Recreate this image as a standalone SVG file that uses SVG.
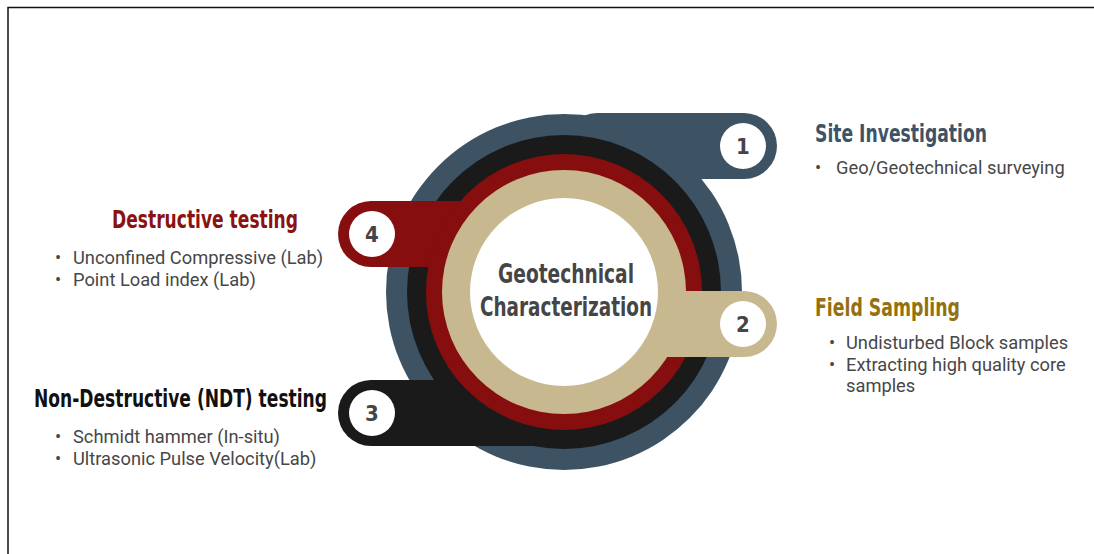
<svg xmlns="http://www.w3.org/2000/svg" width="1094" height="554" viewBox="0 0 1094 554">
<style>
.slate{fill:#3D5263}
.blk{fill:#1A1A1A}
.red{fill:#870E0E}
.tan{fill:#C8B890}
.wh{fill:#FFFFFF}
.num{font-family:"Liberation Sans Narrow","DejaVu Sans Condensed",sans-serif;font-weight:bold;font-size:22px;fill:#454545;text-anchor:middle}
.title{font-family:"Liberation Sans Narrow","DejaVu Sans Condensed",sans-serif;font-weight:bold;font-size:25px}
.center{font-family:"Liberation Sans Narrow","DejaVu Sans Condensed",sans-serif;font-weight:bold;font-size:27px;fill:#454545;text-anchor:middle}
.body{font-family:Roboto,"Liberation Sans",sans-serif;font-size:18.3px;fill:#474747}
</style>
<rect x="0" y="0" width="1094" height="554" fill="#FFFFFF"/>
<path d="M8,560 L8,7.5 L1100,7.5" fill="none" stroke="#111111" stroke-width="1.5"/>
<g id="rings">
<g id="ring1">
<circle class="slate" cx="564" cy="292" r="178"/>
<rect class="slate" x="564" y="113" width="213" height="66" rx="33"/>
</g>
<g id="ring3">
<rect class="blk" x="338" y="380" width="226" height="66" rx="33"/>
<circle class="blk" cx="564" cy="292" r="157"/>
</g>
<g id="ring4">
<rect class="red" x="338" y="201" width="226" height="66" rx="33"/>
<circle class="red" cx="564" cy="292" r="138"/>
</g>
<g id="ring2">
<rect class="tan" x="564" y="291" width="213" height="66" rx="33"/>
<circle class="tan" cx="564" cy="292" r="122"/>
</g>
</g>
<g id="center">
<circle class="wh" cx="564" cy="292" r="94"/>
<text class="center" x="566" y="283" textLength="136" lengthAdjust="spacingAndGlyphs">Geotechnical</text>
<text class="center" x="566" y="316" textLength="172" lengthAdjust="spacingAndGlyphs">Characterization</text>
</g>
<g id="node1">
<circle class="wh" cx="743" cy="146" r="23"/>
<text class="num" x="743" y="154">1</text>
<text class="title" x="815" y="142" fill="#3E5366" textLength="172" lengthAdjust="spacingAndGlyphs">Site Investigation</text>
<text class="body" x="815" y="174">•</text>
<text class="body" x="836" y="174">Geo/Geotechnical surveying</text>
</g>
<g id="node2">
<circle class="wh" cx="743" cy="324" r="23"/>
<text class="num" x="743" y="332">2</text>
<text class="title" x="815" y="316" fill="#94700E" textLength="145" lengthAdjust="spacingAndGlyphs">Field Sampling</text>
<text class="body" x="829" y="349">•</text>
<text class="body" x="846" y="349">Undisturbed Block samples</text>
<text class="body" x="829" y="371">•</text>
<text class="body" x="846" y="371">Extracting high quality core</text>
<text class="body" x="846" y="392">samples</text>
</g>
<g id="node3">
<circle class="wh" cx="372" cy="413" r="23"/>
<text class="num" x="372" y="421">3</text>
<text class="title" x="34" y="407" fill="#111111" font-size="24" textLength="293" lengthAdjust="spacingAndGlyphs">Non-Destructive (NDT) testing</text>
<text class="body" x="55" y="443">•</text>
<text class="body" x="73" y="443">Schmidt hammer (In-situ)</text>
<text class="body" x="55" y="465">•</text>
<text class="body" x="73" y="465">Ultrasonic Pulse Velocity(Lab)</text>
</g>
<g id="node4">
<circle class="wh" cx="372" cy="234" r="23"/>
<text class="num" x="372" y="242">4</text>
<text class="title" x="112" y="228" fill="#8B1212" textLength="186" lengthAdjust="spacingAndGlyphs">Destructive testing</text>
<text class="body" x="55" y="264">•</text>
<text class="body" x="73" y="264">Unconfined Compressive (Lab)</text>
<text class="body" x="55" y="286">•</text>
<text class="body" x="73" y="286">Point Load index (Lab)</text>
</g>
</svg>
